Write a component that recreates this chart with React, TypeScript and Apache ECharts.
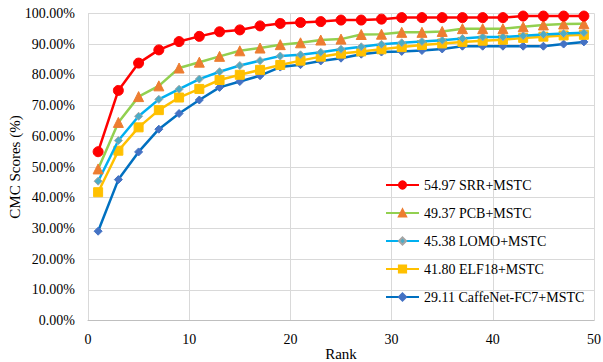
import React, { useEffect, useRef } from "react";
import * as echarts from "echarts";

const ranks = [1, 3, 5, 7, 9, 11, 13, 15, 17, 19, 21, 23, 25, 27, 29, 31, 33, 35, 37, 39, 41, 43, 45, 47, 49];
const srr = [54.97, 74.9, 83.8, 88.1, 90.8, 92.5, 94.0, 94.6, 95.9, 96.7, 97.0, 97.3, 97.8, 97.8, 98.1, 98.6, 98.6, 98.6, 98.6, 98.6, 98.6, 99.1, 99.1, 99.1, 99.1];
const pcb = [49.37, 64.5, 72.9, 76.4, 82.2, 84.1, 86.0, 87.8, 88.7, 89.8, 90.4, 91.3, 91.6, 93.1, 93.2, 93.8, 93.8, 94.1, 95.0, 95.0, 95.0, 95.6, 96.2, 96.5, 96.6];
const lomo = [45.38, 58.6, 66.5, 72.0, 75.3, 78.6, 81.0, 83.0, 84.6, 86.1, 86.5, 87.3, 88.3, 89.1, 89.9, 90.4, 90.8, 91.2, 91.8, 92.3, 92.3, 92.7, 93.1, 93.4, 93.7];
const elf18 = [41.8, 55.3, 62.9, 68.5, 72.6, 75.4, 78.3, 80.0, 81.6, 83.2, 84.6, 85.9, 86.9, 87.6, 88.3, 89.0, 89.7, 90.2, 90.7, 91.1, 91.4, 92.0, 92.4, 92.8, 93.0];
const caffenet = [29.11, 45.9, 54.9, 62.3, 67.4, 71.8, 75.9, 77.8, 79.7, 82.5, 83.3, 84.5, 85.4, 86.7, 87.4, 87.6, 87.9, 88.4, 89.3, 89.3, 89.3, 89.3, 89.3, 90.0, 90.7];
const seriesNames = [
  "54.97 SRR+MSTC",
  "49.37 PCB+MSTC",
  "45.38 LOMO+MSTC",
  "41.80 ELF18+MSTC",
  "29.11 CaffeNet-FC7+MSTC",
];

const FONT = "Liberation Serif";

export default function App() {
  const ref = useRef<HTMLDivElement>(null);
  useEffect(() => {
    if (!ref.current) return;
    const chart = echarts.init(ref.current, undefined, { renderer: "svg" });
    const mk = (vals: number[]) => ranks.map((r, i) => [r, vals[i]]);
    const styles = [
      { line: "#FF0000", marker: "#FF0000", border: "#FF0000", symbol: "circle", size: 10 },
      { line: "#92D050", marker: "#ED7D31", border: "#ED7D31", symbol: "triangle", size: 10 },
      { line: "#00B0F0", marker: "#4BACC6", border: "#A5A5A5", symbol: "diamond", size: 8 },
      { line: "#FFC000", marker: "#FFC000", border: "#FFC000", symbol: "rect", size: 9 },
      { line: "#0070C0", marker: "#4472C4", border: "#4472C4", symbol: "diamond", size: 8 },
    ];
    const datas = [srr, pcb, lomo, elf18, caffenet];
    chart.setOption({
      animation: false,
      backgroundColor: "#ffffff",
      textStyle: { fontFamily: FONT },
      grid: { left: 88, right: 9, top: 13.3, bottom: 41.3, containLabel: false, outerBoundsMode: "none" },
      legend: {
        orient: "vertical",
        left: 380,
        top: 173,
        itemGap: 14,
        itemWidth: 33,
        itemHeight: 9,
        textStyle: { fontFamily: FONT, fontSize: 14, color: "#000000" },
        data: seriesNames,
      },
      xAxis: {
        type: "value",
        min: 0,
        max: 50,
        interval: 10,
        name: "Rank",
        nameLocation: "middle",
        nameGap: 26,
        nameMoveOverlap: false,
        nameTextStyle: { fontFamily: FONT, fontSize: 15, lineHeight: 15, color: "#000000" },
        axisLine: { show: true, lineStyle: { color: "#BFBFBF", width: 1 } },
        axisTick: { show: false },
        axisLabel: { fontFamily: FONT, fontSize: 14, color: "#000000", margin: 12 },
        splitLine: { show: true, lineStyle: { color: "#D9D9D9", width: 1 } },
      },
      yAxis: {
        type: "value",
        min: 0,
        max: 100,
        interval: 10,
        name: "CMC Scores (%)",
        nameLocation: "middle",
        nameGap: 66,
        nameMoveOverlap: false,
        nameTextStyle: { fontFamily: FONT, fontSize: 15, lineHeight: 15, color: "#000000" },
        axisLine: { show: false },
        axisTick: { show: false },
        axisLabel: {
          fontFamily: FONT,
          fontSize: 14,
          color: "#000000",
          margin: 13,
          formatter: (v: number) => v.toFixed(2) + "%",
        },
        splitLine: { show: true, lineStyle: { color: "#D9D9D9", width: 1 } },
      },
      series: seriesNames.map((name, i) => ({
        name,
        type: "line",
        data: mk(datas[i]),
        symbol: styles[i].symbol,
        symbolSize: styles[i].size,
        lineStyle: { color: styles[i].line, width: 2.5 },
        itemStyle: { color: styles[i].marker, borderColor: styles[i].border, borderWidth: 1 },
        z: 10 - i,
      })),
    });
    return () => chart.dispose();
  }, []);
  return (
    <div
      ref={ref}
      style={{ position: "fixed", left: 0, top: 0, width: 603, height: 362 }}
    />
  );
}
